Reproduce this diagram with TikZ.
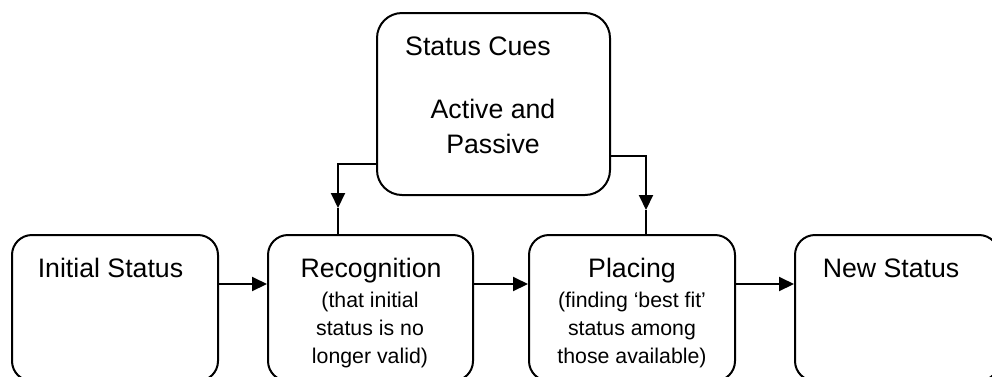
\documentclass[tikz,border=0pt]{standalone}
\usepackage{fontspec}
\setmainfont{Liberation Sans}
\usetikzlibrary{arrows.meta}
\begin{document}
\begin{tikzpicture}[x=1pt,y=-1pt,
  box/.style={draw, line width=2pt, rounded corners=20pt, inner sep=0pt,
              minimum height=146pt},
  big/.style={font=\fontsize{26.7}{35.5}\selectfont, anchor=base, inner sep=0pt},
  small/.style={font=\fontsize{21.3}{28.3}\selectfont, anchor=base, inner sep=0pt},
  plain/.style={line width=2pt},
  link/.style={line width=2pt, -{Triangle[length=15pt,width=14pt]}}]
\useasboundingbox (0,0) rectangle (992,376);
\clip (0,0) rectangle (992,376);

% boxes
\node[box, rounded corners=25pt, minimum width=233pt, minimum height=182pt] (cues) at (493.5,104) {};
\node[box, minimum width=206pt] (init)  at (115,308) {};
\node[box, minimum width=205pt] (recog) at (370.5,308) {};
\node[box, minimum width=206pt] (place) at (632,308) {};
\node[box, minimum width=204pt] (new)   at (897,308) {};

% texts
\node[big, anchor=base west] (tcues) at (405,55) {Status Cues};
\node[big] (tact)  at (493,118) {Active and};
\node[big] (tpass) at (493,153) {Passive};

\node[big] (tinit)  at (110.5,277) {Initial Status};
\node[big] (trecog) at (371,277) {Recognition};
\node[small] (tr1) at (370,307) {(that initial};
\node[small] (tr2) at (370,335) {status is no};
\node[small] (tr3) at (370,363) {longer valid)};

\node[big] (tplace) at (632,277) {Placing};
\node[small] (tp1) at (632,307) {(finding ‘best fit’};
\node[small] (tp2) at (632,335) {status among};
\node[small] (tp3) at (632,363) {those available)};

\node[big] (tnew) at (891,277) {New Status};

% connectors along the row
\coordinate (row) at (0,284);
\draw[link] (init.east |- row)  -- (recog.west |- row);
\draw[link] (recog.east |- row) -- (place.west |- row);
\draw[link] (place.east |- row) -- (new.west |- row);

% connectors from the cues box
\coordinate (lk) at (338,164);
\coordinate (lt) at (338,208);
\coordinate (rk) at (646,156);
\coordinate (rt) at (646,210);
\draw[link] (cues.west |- lk) -- (lk) -- (lt);
\draw[plain] (lt) -- (lt |- recog.north);
\draw[link] (cues.east |- rk) -- (rk) -- (rt);
\draw[plain] (rt) -- (rt |- place.north);
\end{tikzpicture}
\end{document}
